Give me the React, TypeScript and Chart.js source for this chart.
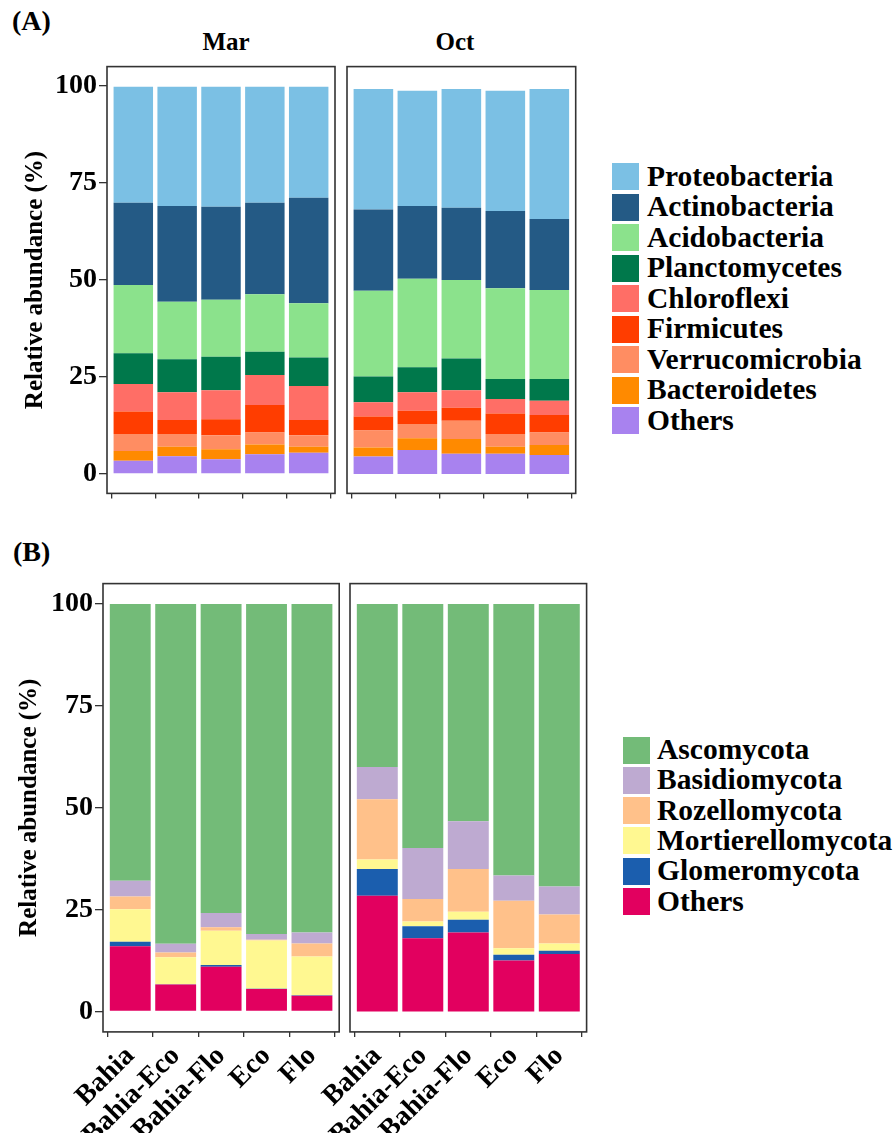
import React, { useEffect, useRef } from 'react';
import { Chart, registerables } from 'chart.js';

Chart.register(...registerables);

const FONT = "'Liberation Serif', 'Times New Roman', Times, serif";

// ---------- categories & ticks ----------
const sites = ['Bahia', 'Bahia-Eco', 'Bahia-Flo', 'Eco', 'Flo'];
const months = ['Mar', 'Oct'];
const yTicks = [0, 25, 50, 75, 100];

// ---------- Panel A: bacterial phyla (%), order = sites ----------
const proteobacteriaMar = [29.9, 30.7, 30.9, 29.9, 28.6];
const proteobacteriaOct = [31.0, 29.7, 30.6, 31.0, 33.5];
const actinobacteriaMar = [21.2, 24.7, 24.0, 23.6, 27.2];
const actinobacteriaOct = [21.0, 18.8, 18.6, 19.9, 18.3];
const acidobacteriaMar = [17.6, 14.8, 14.7, 14.8, 14.0];
const acidobacteriaOct = [22.1, 22.8, 20.2, 23.4, 22.9];
const planctomycetesMar = [7.9, 8.5, 8.6, 6.0, 7.3];
const planctomycetesOct = [6.6, 6.4, 8.2, 5.2, 5.6];
const chloroflexiMar = [7.1, 7.2, 7.5, 7.7, 8.8];
const chloroflexiOct = [3.7, 4.8, 4.5, 3.7, 3.7];
const firmicutesMar = [5.8, 3.6, 4.1, 7.1, 3.9];
const firmicutesOct = [3.6, 3.4, 3.4, 5.3, 4.5];
const verrucomicrobiaMar = [4.4, 3.3, 3.6, 3.1, 3.0];
const verrucomicrobiaOct = [4.4, 3.7, 4.7, 3.3, 3.2];
const bacteroidetesMar = [2.5, 2.4, 2.6, 2.5, 1.5];
const bacteroidetesOct = [2.3, 3.0, 3.8, 1.8, 2.6];
const bacteriaOthersMar = [3.4, 4.6, 3.8, 5.1, 5.5];
const bacteriaOthersOct = [4.5, 6.2, 5.2, 5.2, 4.9];

// ---------- Panel B: fungal phyla (%), order = sites ----------
const ascomycotaMar = [67.9, 83.4, 75.8, 81.0, 80.6];
const ascomycotaOct = [40.0, 59.9, 53.3, 66.6, 69.3];
const basidiomycotaMar = [3.9, 2.1, 3.5, 1.4, 2.7];
const basidiomycotaOct = [7.9, 12.5, 11.7, 6.2, 6.9];
const rozellomycotaMar = [3.1, 1.2, 0.9, 0.2, 3.2];
const rozellomycotaOct = [14.8, 5.5, 10.5, 11.7, 7.1];
const mortierellomycotaMar = [8.0, 6.6, 8.4, 11.8, 9.5];
const mortierellomycotaOct = [2.3, 1.2, 2.0, 1.6, 1.8];
const glomeromycotaMar = [1.1, 0.1, 0.4, 0.1, 0.1];
const glomeromycotaOct = [6.6, 2.9, 3.1, 1.4, 0.8];
const fungiOthersMar = [16.0, 6.6, 11.0, 5.5, 3.9];
const fungiOthersOct = [28.4, 18.0, 19.4, 12.5, 14.1];

// legend order (top of stack first)
const bacteriaNames = ['Proteobacteria', 'Actinobacteria', 'Acidobacteria', 'Planctomycetes', 'Chloroflexi', 'Firmicutes', 'Verrucomicrobia', 'Bacteroidetes', 'Others'];
const bacteriaColors = ['#7BC0E4', '#245A85', '#8BE28C', '#00784B', '#FF6E66', '#FF3D00', '#FF8D62', '#FF8A00', '#A882EF'];
const bacteriaMar = [proteobacteriaMar, actinobacteriaMar, acidobacteriaMar, planctomycetesMar, chloroflexiMar, firmicutesMar, verrucomicrobiaMar, bacteroidetesMar, bacteriaOthersMar];
const bacteriaOct = [proteobacteriaOct, actinobacteriaOct, acidobacteriaOct, planctomycetesOct, chloroflexiOct, firmicutesOct, verrucomicrobiaOct, bacteroidetesOct, bacteriaOthersOct];

const fungiNames = ['Ascomycota', 'Basidiomycota', 'Rozellomycota', 'Mortierellomycota', 'Glomeromycota', 'Others'];
const fungiColors = ['#73BB78', '#BEAAD1', '#FFC18A', '#FFF891', '#1B5EAE', '#E2005F'];
const fungiMar = [ascomycotaMar, basidiomycotaMar, rozellomycotaMar, mortierellomycotaMar, glomeromycotaMar, fungiOthersMar];
const fungiOct = [ascomycotaOct, basidiomycotaOct, rozellomycotaOct, mortierellomycotaOct, glomeromycotaOct, fungiOthersOct];

type FacetCfg = {
  left: number; top: number; width: number; height: number;
  padLeft: number; padTop: number; padRight: number;
  yAxisWidth: number; xAxisHeight: number; showX: boolean; titlePad: number;
  names: string[]; colors: string[]; series: number[][];
};

const boxPlugin = {
  id: 'panelBox',
  afterDraw(chart: any) {
    const { ctx, chartArea: a } = chart;
    ctx.save();
    ctx.strokeStyle = '#333333';
    ctx.lineWidth = 1.6;
    ctx.strokeRect(a.left, a.top, a.right - a.left, a.bottom - a.top);
    ctx.restore();
  },
};

function Facet({ f }: { f: FacetCfg }) {
  const ref = useRef<HTMLCanvasElement | null>(null);
  useEffect(() => {
    if (!ref.current) return;
    // datasets bottom-up: reverse legend order
    const n = f.names.length;
    const datasets = f.names.map((_, k) => {
      const i = n - 1 - k;
      return {
        label: f.names[i],
        data: f.series[i],
        backgroundColor: f.colors[i],
        borderWidth: 0,
        barPercentage: 0.9,
        categoryPercentage: 1.0,
      };
    });
    const chart = new Chart(ref.current, {
      type: 'bar',
      data: { labels: sites, datasets },
      options: {
        responsive: false,
        animation: false,
        layout: { padding: { left: f.padLeft, top: f.padTop, right: f.padRight, bottom: 0 } },
        plugins: { legend: { display: false }, tooltip: { enabled: false } },
        scales: {
          x: {
            stacked: true,
            offset: true,
            border: { display: false },
            grid: { display: true, drawOnChartArea: false, drawTicks: true, tickLength: 5, color: '#333333', lineWidth: 1.3 },
            ticks: {
              display: f.showX, autoSkip: false, minRotation: 45, maxRotation: 45, padding: 3,
              color: '#000', font: { family: FONT, size: 28, weight: 'bold' },
            },
            afterBuildTicks: (s: any) => { s._startValue = -0.6; s._valueRange = 5.2; },
            afterFit: (s: any) => { s.height = f.xAxisHeight; s.paddingLeft = 0; s.paddingRight = 0; },
          },
          y: {
            stacked: true,
            min: -5,
            max: 105,
            display: f.yAxisWidth > 0,
            border: { display: false },
            grid: { display: true, drawOnChartArea: false, drawTicks: true, tickLength: 8, color: '#333333', lineWidth: 1.3 },
            ticks: { padding: 2, color: '#000', font: { family: FONT, size: 28, weight: 'bold' } },
            afterBuildTicks: (s: any) => { s.ticks = yTicks.map((v) => ({ value: v })); },
            afterFit: (s: any) => { s.width = f.yAxisWidth; s.paddingTop = 0; s.paddingBottom = 0; },
            title: {
              display: true, text: 'Relative abundance (%)', color: '#000',
              font: { family: FONT, size: 25, weight: 'bold' },
              padding: { top: f.titlePad, bottom: 0 },
            },
          },
        },
      } as any,
      plugins: [boxPlugin],
    });
    return () => chart.destroy();
  }, []);
  return (
    <canvas
      ref={ref}
      width={f.width}
      height={f.height}
      style={{ position: 'absolute', left: f.left, top: f.top, width: f.width, height: f.height }}
    />
  );
}

function Legend({ names, colors, left, textLeft, firstCenter, spacing }: {
  names: string[]; colors: string[]; left: number; textLeft: number; firstCenter: number; spacing: number;
}) {
  return (
    <>
      {names.map((nm, i) => {
        const c = firstCenter + i * spacing;
        return (
          <React.Fragment key={nm}>
            <div style={{ position: 'absolute', left, top: c - 13.5, width: 27, height: 27, background: colors[i] }} />
            <div style={{
              position: 'absolute', left: textLeft, top: c - 15, fontFamily: FONT, fontWeight: 'bold',
              fontSize: 29.5, lineHeight: '29.5px', whiteSpace: 'nowrap', color: '#000',
            }}>{nm}</div>
          </React.Fragment>
        );
      })}
    </>
  );
}

const textStyle = (left: number, top: number, size: number, width?: number): React.CSSProperties => ({
  position: 'absolute', left, top, fontFamily: FONT, fontWeight: 'bold', fontSize: size,
  lineHeight: `${size}px`, whiteSpace: 'nowrap', color: '#000',
  ...(width ? { width, textAlign: 'center' as const } : {}),
});

const facetA: FacetCfg[] = [
  { left: 0, top: 0, width: 340, height: 520, padLeft: 0, padTop: 66.6, padRight: 5, yAxisWidth: 107, xAxisHeight: 26.6, showX: false, titlePad: 21, names: bacteriaNames, colors: bacteriaColors, series: bacteriaMar },
  { left: 340, top: 0, width: 245, height: 520, padLeft: 7, padTop: 66.6, padRight: 9.3, yAxisWidth: 0, xAxisHeight: 26.6, showX: false, titlePad: 0, names: bacteriaNames, colors: bacteriaColors, series: bacteriaOct },
];
const facetB: FacetCfg[] = [
  { left: 0, top: 530, width: 345, height: 603, padLeft: 0, padTop: 53.6, padRight: 5.8, yAxisWidth: 103, xAxisHeight: 101.1, showX: true, titlePad: 15, names: fungiNames, colors: fungiColors, series: fungiMar },
  { left: 200, top: 530, width: 395, height: 603, padLeft: 150, padTop: 53.6, padRight: 8.4, yAxisWidth: 0, xAxisHeight: 101.1, showX: true, titlePad: 0, names: fungiNames, colors: fungiColors, series: fungiOct },
];

export default function App() {
  return (
    <div style={{ position: 'absolute', left: 0, top: 0, width: 895, height: 1133, background: '#fff', overflow: 'hidden' }}>
      <div style={textStyle(12, 7, 28)}>(A)</div>
      <div style={textStyle(176, 29, 25, 100)}>{months[0]}</div>
      <div style={textStyle(405, 29, 25, 100)}>{months[1]}</div>
      <div style={textStyle(13, 538, 28)}>(B)</div>
      <Facet f={facetA[0]} />
      <Facet f={facetA[1]} />
      <Facet f={facetB[0]} />
      <Facet f={facetB[1]} />
      <Legend names={bacteriaNames} colors={bacteriaColors} left={612} textLeft={647} firstCenter={176.7} spacing={30.5} />
      <Legend names={fungiNames} colors={fungiColors} left={623} textLeft={657} firstCenter={750} spacing={30.3} />
    </div>
  );
}
